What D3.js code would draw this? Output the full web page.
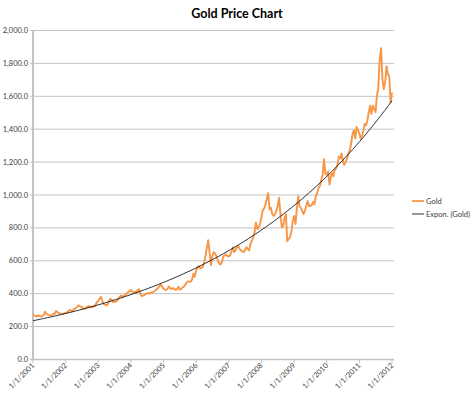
<!DOCTYPE html>
<html>
<head>
<meta charset="utf-8">
<script src="https://cdn.jsdelivr.net/npm/d3@7"></script>
<style>
  body { margin: 0; background: #fff; }
  text { font-family: Lato, "Liberation Sans", sans-serif; }
</style>
</head>
<body>
<svg id="chart" width="474" height="395"></svg>
<script>
'use strict';

(() => {

  //gold price, sampled on the 1st and the 16th of every month (USD/oz)
  const gold2001 = [268, 264, 262, 258, 266, 262, 258, 262, 268, 288, 272, 270, 267, 265, 266, 276, 274, 292, 284, 278, 277, 274, 273, 278];
  const gold2002 = [279, 283, 290, 298, 296, 290, 302, 306, 312, 322, 326, 318, 318, 305, 306, 312, 318, 322, 318, 314, 320, 318, 328, 345];
  const gold2003 = [352, 366, 378, 352, 336, 330, 326, 330, 352, 366, 360, 346, 350, 348, 356, 366, 380, 386, 376, 386, 388, 398, 406, 413];
  const gold2004 = [420, 410, 406, 410, 400, 420, 424, 398, 382, 385, 390, 395, 400, 398, 400, 405, 405, 410, 416, 425, 432, 444, 452, 440];
  const gold2005 = [426, 422, 420, 428, 440, 430, 426, 432, 425, 420, 425, 440, 422, 425, 435, 440, 450, 465, 472, 470, 470, 485, 518, 500];
  const gold2006 = [540, 556, 566, 550, 555, 560, 590, 630, 680, 722, 640, 570, 625, 650, 640, 625, 600, 580, 575, 590, 625, 630, 636, 625];
  const gold2007 = [625, 630, 655, 680, 650, 660, 680, 688, 670, 660, 655, 650, 660, 680, 670, 660, 700, 720, 740, 770, 830, 790, 800, 820];
  const gold2008 = [862, 905, 915, 940, 975, 1008, 910, 920, 880, 870, 880, 900, 930, 980, 880, 800, 810, 860, 880, 715, 730, 740, 775, 835];
  const gold2009 = [870, 820, 920, 990, 930, 920, 900, 880, 900, 930, 960, 930, 930, 935, 955, 940, 990, 1010, 1040, 1050, 1090, 1120, 1215, 1130];
  const gold2010 = [1120, 1140, 1060, 1110, 1130, 1110, 1150, 1160, 1180, 1230, 1220, 1250, 1200, 1180, 1200, 1220, 1250, 1270, 1310, 1370, 1390, 1340, 1410, 1390];
  const gold2011 = [1370, 1340, 1360, 1390, 1430, 1420, 1450, 1500, 1540, 1490, 1540, 1520, 1500, 1600, 1650, 1820, 1890, 1700, 1640, 1680, 1780, 1730, 1720, 1560];
  const gold2012 = [1620];
  const years = [2001, 2002, 2003, 2004, 2005, 2006, 2007, 2008, 2009, 2010, 2011, 2012];
  const goldByYear = [gold2001, gold2002, gold2003, gold2004, gold2005, gold2006, gold2007, gold2008, gold2009, gold2010, gold2011, gold2012];

  //axis ticks and legend
  const yTicks = [0, 200, 400, 600, 800, 1000, 1200, 1400, 1600, 1800, 2000];
  const xTickYears = [2001, 2002, 2003, 2004, 2005, 2006, 2007, 2008, 2009, 2010, 2011, 2012];
  const legendItems = ['Gold', 'Expon. (Gold)'];
  const title = 'Gold Price Chart';

  //dimensions
  const W = 474;
  const plot = { left: 33, right: 393, top: 30, bottom: 359 };
  const orange = '#f79646';
  const gridColor = '#c3c3c3';

  const data = [];
  goldByYear.forEach((vals, yi) => {
    vals.forEach((v, i) => {
      data.push({ date: new Date(years[yi], Math.floor(i / 2), i % 2 ? 16 : 1), value: v });
    });
  });

  const x = d3.scaleTime()
    .domain([new Date(2001, 0, 1), new Date(2012, 0, 1)])
    .range([plot.left, plot.right - 1]);
  const y = d3.scaleLinear()
    .domain([0, 2000])
    .range([plot.bottom, plot.top]);

  const svg = d3.select('#chart');

  //title
  svg.append('text')
    .attr('x', W / 2)
    .attr('y', 18)
    .attr('text-anchor', 'middle')
    .attr('font-size', 12.5)
    .attr('font-weight', 'bold')
    .attr('fill', '#000')
    .text(title);

  //gridlines + y labels
  yTicks.forEach((t) => {
    svg.append('line')
      .attr('x1', plot.left - 3)
      .attr('x2', plot.right + 1)
      .attr('y1', y(t) + 0.5)
      .attr('y2', y(t) + 0.5)
      .attr('stroke', gridColor)
      .attr('stroke-width', t === 0 ? 1.5 : 1);
    svg.append('text')
      .attr('x', plot.left - 5)
      .attr('y', y(t) + 3)
      .attr('text-anchor', 'end')
      .attr('font-size', 7.5)
      .attr('fill', '#404040')
      .text(d3.format(',.1f')(t));
  });

  //y axis line
  svg.append('line')
    .attr('x1', plot.left)
    .attr('x2', plot.left)
    .attr('y1', plot.top)
    .attr('y2', plot.bottom + 1)
    .attr('stroke', gridColor)
    .attr('stroke-width', 2);

  //x ticks + rotated labels
  const fmt = d3.timeFormat('%-m/%-d/%Y');
  xTickYears.forEach((yr) => {
    const d = new Date(yr, 0, 1);
    const px = x(d);
    svg.append('line')
      .attr('x1', px)
      .attr('x2', px)
      .attr('y1', plot.bottom)
      .attr('y2', plot.bottom + 4)
      .attr('stroke', gridColor)
      .attr('stroke-width', 1);
    svg.append('text')
      .attr('x', px + 2)
      .attr('y', plot.bottom + 7)
      .attr('text-anchor', 'end')
      .attr('font-size', 7.5)
      .attr('fill', '#404040')
      .attr('transform', `rotate(-45, ${px + 2}, ${plot.bottom + 7})`)
      .text(fmt(d));
  });

  //gold line
  const line = d3.line()
    .x((d) => x(d.date))
    .y((d) => y(d.value));
  svg.append('path')
    .datum(data)
    .attr('d', line)
    .attr('fill', 'none')
    .attr('stroke', orange)
    .attr('stroke-width', 1.9)
    .attr('stroke-linejoin', 'round');

  //exponential trendline: least squares on ln(value), like Excel
  const xs = data.map((d) => d.date.getTime() / 864e5);
  const ls = data.map((d) => Math.log(d.value));
  const mx = d3.mean(xs);
  const ml = d3.mean(ls);
  const b = d3.sum(xs, (v, i) => (v - mx) * (ls[i] - ml)) / d3.sum(xs, (v) => (v - mx) * (v - mx));
  const a = ml - b * mx;
  const first = data[0].date.getTime();
  const last = data[data.length - 1].date.getTime();
  const trend = d3.range(0, 101).map((i) => {
    const t = first + (last - first) * i / 100;
    return { date: new Date(t), value: Math.exp(a + b * t / 864e5) };
  });
  svg.append('path')
    .datum(trend)
    .attr('d', line)
    .attr('fill', 'none')
    .attr('stroke', '#1a1a1a')
    .attr('stroke-width', 0.9);

  //legend
  legendItems.forEach((name, i) => {
    const ly = 201 + i * 13;
    svg.append('line')
      .attr('x1', 412)
      .attr('x2', 424)
      .attr('y1', ly)
      .attr('y2', ly)
      .attr('stroke', i === 0 ? orange : '#1a1a1a')
      .attr('stroke-width', i === 0 ? 1.8 : 0.9);
    svg.append('text')
      .attr('x', 426)
      .attr('y', ly + 2.5)
      .attr('font-size', 7.5)
      .attr('fill', '#404040')
      .text(name);
  });

})();
</script>
</body>
</html>
